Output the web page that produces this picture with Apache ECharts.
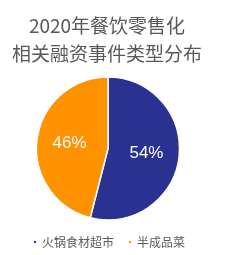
<!DOCTYPE html>
<html>
<head>
<meta charset="utf-8">
<script src="https://cdn.jsdelivr.net/npm/echarts@6/dist/echarts.min.js"></script>
<style>
html,body{margin:0;padding:0;background:#fff;}
#chart{width:248px;height:255px;}
</style>
</head>
<body>
<div id="chart"></div>
<script>
const titleText = '2020年餐饮零售化\n相关融资事件类型分布';
const categories = ['火锅食材超市', '半成品菜'];
const values = [54, 46];
const colors = ['#2a3291', '#ff9200'];

const chart = echarts.init(document.getElementById('chart'), null, {renderer: 'canvas'});
chart.setOption({
  animation: false,
  backgroundColor: '#ffffff',
  color: colors,
  title: {
    text: titleText,
    left: 107,
    textAlign: 'center',
    top: 12,
    padding: 0,
    textStyle: {
      fontFamily: 'Noto Sans CJK SC',
      fontSize: 19,
      fontWeight: 'normal',
      lineHeight: 28,
      color: '#595959'
    }
  },
  legend: {
    data: categories,
    left: 32,
    top: 236,
    padding: 0,
    icon: 'rect',
    itemWidth: 4,
    itemHeight: 4,
    itemGap: 13,
    textStyle: {
      fontFamily: 'Noto Sans CJK SC',
      fontSize: 12,
      color: '#595959'
    }
  },
  series: [{
    type: 'pie',
    center: [108, 148.5],
    radius: [0, 71.5],
    startAngle: 90,
    clockwise: true,
    itemStyle: {borderColor: '#ffffff', borderWidth: 1.5},
    label: {
      show: true,
      position: 'inside',
      formatter: '{c}%',
      color: '#ffffff',
      fontFamily: 'Liberation Sans',
      fontSize: 17
    },
    labelLine: {show: false},
    emphasis: {disabled: true},
    data: categories.map((n, i) => ({name: n, value: values[i]}))
  }]
});
</script>
</body>
</html>
